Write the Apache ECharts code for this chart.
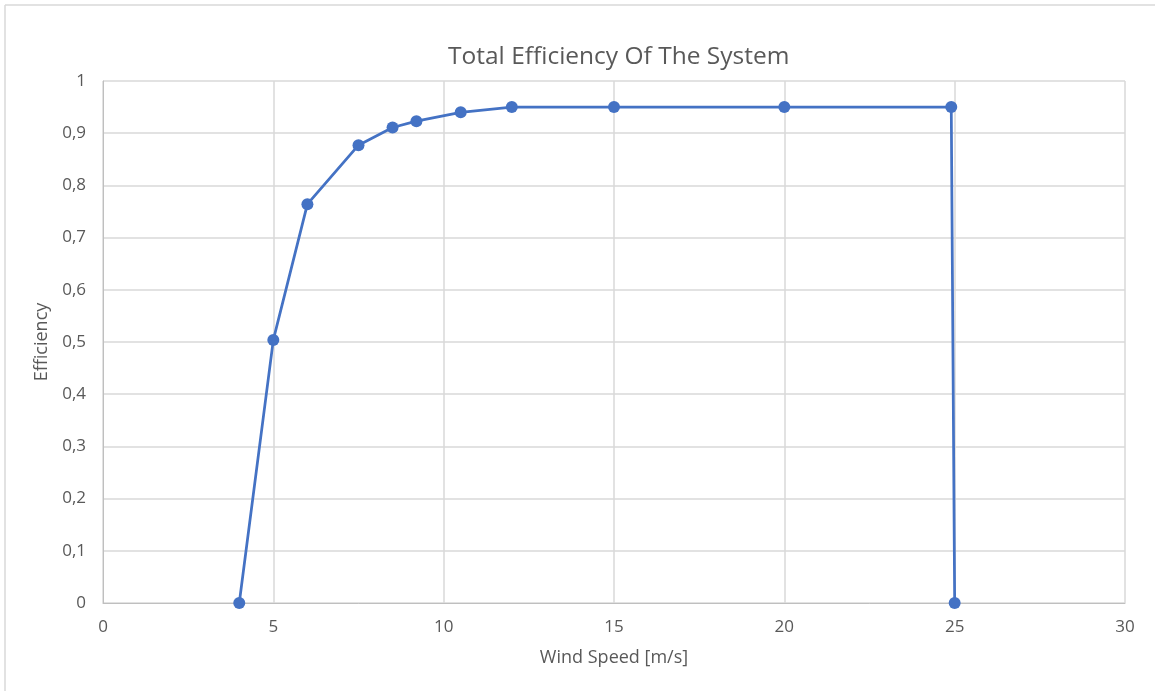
<!DOCTYPE html>
<html>
<head>
<meta charset="utf-8">
<script src="https://cdn.jsdelivr.net/npm/echarts@6/dist/echarts.min.js"></script>
<style>
  html, body { margin: 0; padding: 0; background: #fff; }
  #chart { width: 1155px; height: 691px; }
</style>
</head>
<body>
<div id="chart"></div>
<script>
// Wind speed [m/s] and total system efficiency at each operating point
const windSpeed = [4, 5, 6, 7.5, 8.5, 9.2, 10.5, 12, 15, 20, 24.9, 25];
const efficiency = [0, 0.504, 0.764, 0.877, 0.911, 0.923, 0.940, 0.950, 0.950, 0.950, 0.950, 0];

const chart = echarts.init(document.getElementById('chart'), null, { renderer: 'canvas' });
const font = '"Open Sans", "Noto Sans", sans-serif';
const textGray = '#595959';

chart.setOption({
  animation: false,
  backgroundColor: '#ffffff',
  title: {
    text: 'Total Efficiency Of The System',
    left: 443,
    top: 40,
    textStyle: { fontFamily: font, fontSize: 24.5, fontWeight: 'normal', color: textGray }
  },
  grid: { left: 103, right: 30, top: 81, bottom: 88 },
  graphic: [
    { type: 'line', shape: { x1: 5, y1: 5, x2: 1155, y2: 5 }, style: { stroke: '#d9d9d9', lineWidth: 1.5 } },
    { type: 'line', shape: { x1: 5, y1: 5, x2: 5, y2: 691 }, style: { stroke: '#d9d9d9', lineWidth: 1.5 } }
  ],
  xAxis: {
    type: 'value',
    min: 0, max: 30, interval: 5,
    name: 'Wind Speed [m/s]',
    nameLocation: 'middle',
    nameGap: 46,
    nameTextStyle: { fontFamily: font, fontSize: 18, color: textGray },
    axisLine: { show: true, lineStyle: { color: '#bfbfbf', width: 1 } },
    axisTick: { show: false },
    axisLabel: { fontFamily: font, fontSize: 17, color: textGray, margin: 16 },
    splitLine: { show: true, lineStyle: { color: '#d9d9d9', width: 1.5 } }
  },
  yAxis: {
    type: 'value',
    min: 0, max: 1, interval: 0.1,
    name: 'Efficiency',
    nameLocation: 'middle',
    nameGap: 49,
    nameTextStyle: { fontFamily: font, fontSize: 18, color: textGray },
    axisLine: { show: true, lineStyle: { color: '#bfbfbf', width: 1 } },
    axisTick: { show: false },
    axisLabel: {
      fontFamily: font, fontSize: 17, color: textGray, margin: 17,
      formatter: v => String(Math.round(v * 10) / 10).replace('.', ',')
    },
    splitLine: { show: true, lineStyle: { color: '#d9d9d9', width: 1.5 } }
  },
  series: [{
    type: 'line',
    data: windSpeed.map((x, i) => [x, efficiency[i]]),
    symbol: 'circle',
    symbolSize: 12,
    itemStyle: { color: '#4472c4' },
    lineStyle: { color: '#4472c4', width: 2.75 }
  }]
});
</script>
</body>
</html>
